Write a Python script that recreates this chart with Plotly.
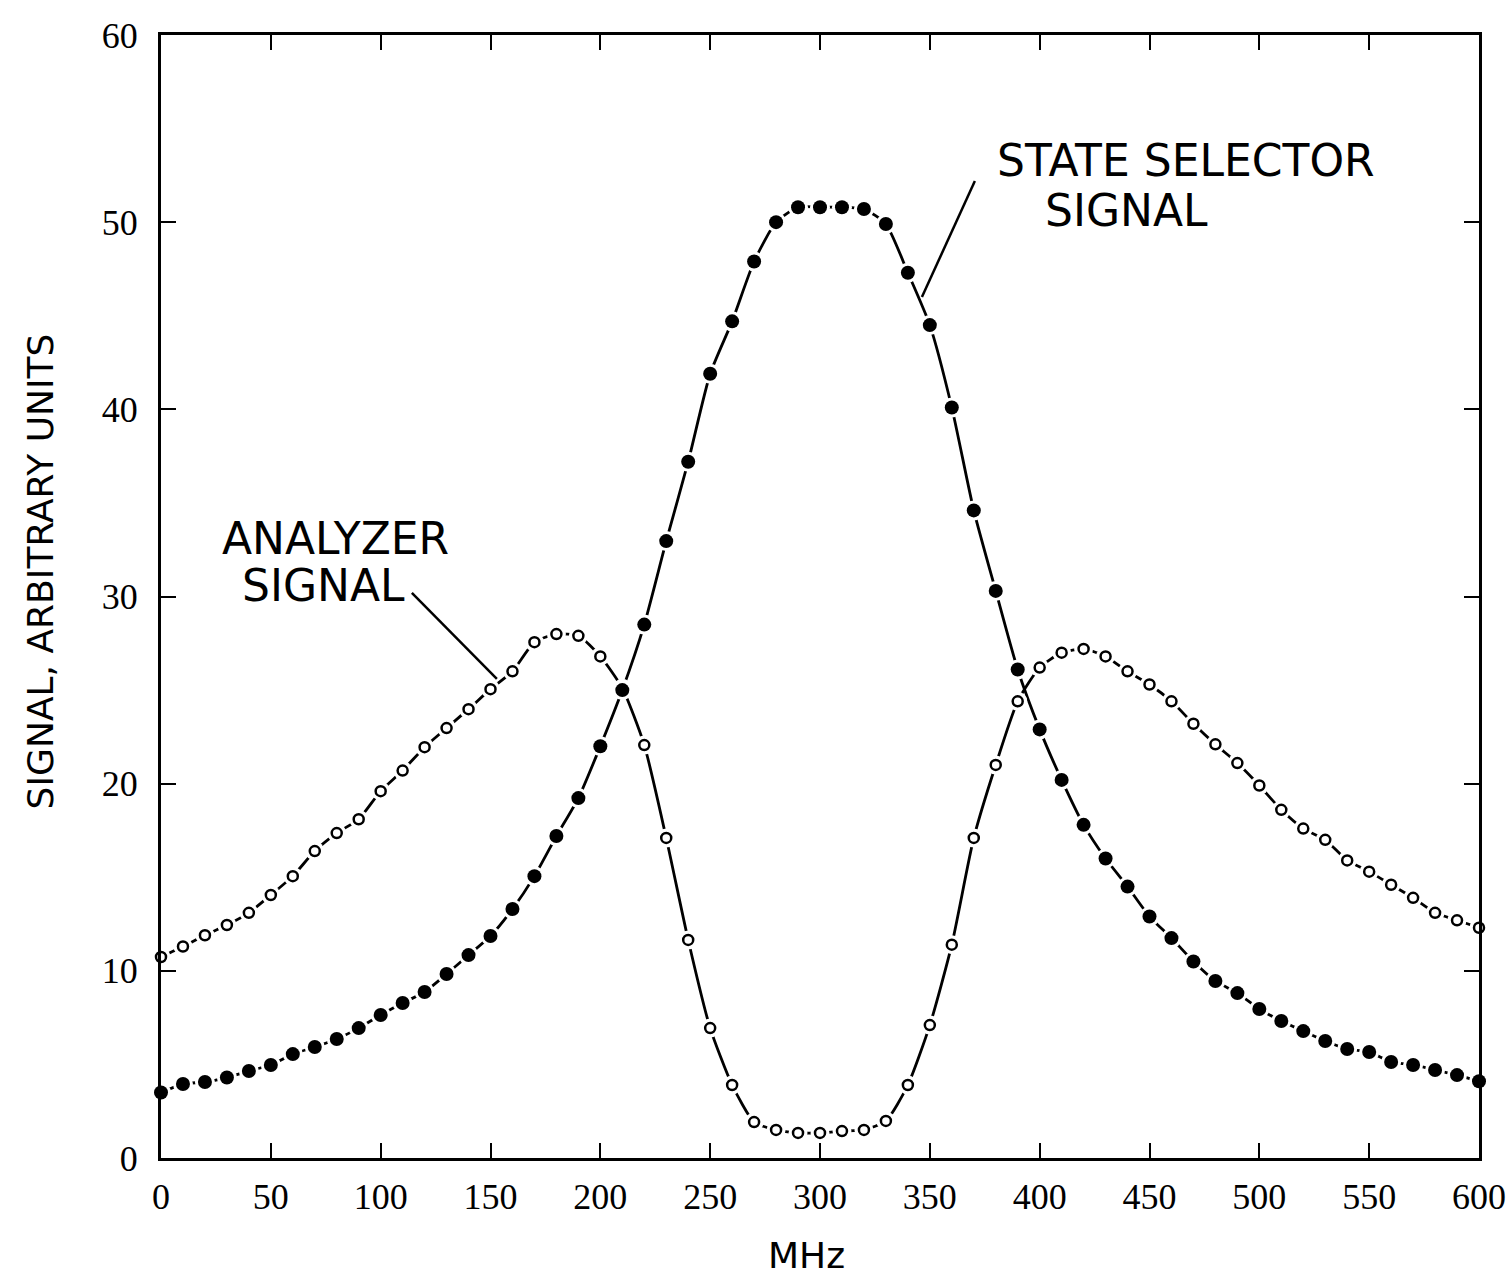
import plotly.graph_objects as go

freq_mhz = list(range(0, 601, 10))

state_selector_signal = [
    3.5, 3.95, 4.06, 4.3, 4.65, 4.97, 5.55, 5.93, 6.36, 6.94,
    7.64, 8.28, 8.87, 9.83, 10.84, 11.86, 13.3, 15.06, 17.2, 19.23,
    22.0, 25.0, 28.5, 32.96, 37.2, 41.9, 44.7, 47.9, 50.0, 50.8,
    50.8, 50.8, 50.7, 49.9, 47.3, 44.5, 40.1, 34.6, 30.3, 26.1,
    22.9, 20.2, 17.8, 16.0, 14.5, 12.9, 11.75, 10.5, 9.46, 8.81,
    7.96, 7.32, 6.78, 6.25, 5.82, 5.66, 5.13, 4.97, 4.7, 4.43, 4.1,
]

analyzer_signal = [
    10.74, 11.3, 11.9, 12.45, 13.1, 14.05, 15.06, 16.4, 17.36, 18.1,
    19.6, 20.7, 21.95, 22.97, 23.98, 25.05, 26.0, 27.56, 27.99, 27.9,
    26.8, 25.1, 22.06, 17.1, 11.65, 6.94, 3.9, 1.92, 1.5, 1.34,
    1.34, 1.44, 1.5, 1.98, 3.9, 7.1, 11.4, 17.1, 21.0, 24.4,
    26.2, 27.0, 27.2, 26.8, 26.0, 25.3, 24.4, 23.2, 22.1, 21.1,
    19.9, 18.6, 17.6, 17.0, 15.9, 15.3, 14.6, 13.9, 13.1, 12.7, 12.3,
]

x_ticks = list(range(0, 601, 50))
y_ticks = list(range(0, 61, 10))

fig = go.Figure()

def add_line(y):
    fig.add_trace(go.Scatter(
        x=freq_mhz, y=y, mode="lines",
        line=dict(color="black", width=2.8, shape="spline", smoothing=0.6),
        hoverinfo="skip", showlegend=False,
    ))

def add_markers(y, filled):
    # white halo that opens a gap in the line around every point
    fig.add_trace(go.Scatter(
        x=freq_mhz, y=y, mode="markers",
        marker=dict(size=20 if filled else 19, color="white", line=dict(width=0)),
        cliponaxis=False, hoverinfo="skip", showlegend=False,
    ))
    if filled:
        m = dict(size=14, color="black", line=dict(width=0))
    else:
        m = dict(size=10, color="white", line=dict(color="black", width=2.5))
    fig.add_trace(go.Scatter(
        x=freq_mhz, y=y, mode="markers", marker=m,
        cliponaxis=False, showlegend=False,
    ))

add_line(analyzer_signal)
add_line(state_selector_signal)
add_markers(analyzer_signal, False)
add_markers(state_selector_signal, True)

ann_font = dict(family="DejaVu Sans", size=44, color="black")
annotations = [
    dict(x=379.6, y=53.3, text="STATE SELECTOR", xanchor="left", yanchor="middle"),
    dict(x=401.5, y=50.6, text="SIGNAL", xanchor="left", yanchor="middle"),
    dict(x=27.0, y=33.1, text="ANALYZER", xanchor="left", yanchor="middle"),
    dict(x=36.0, y=30.6, text="SIGNAL", xanchor="left", yanchor="middle"),
]
for a in annotations:
    a.update(xref="x", yref="y", showarrow=False, font=ann_font)

title_font = dict(family="DejaVu Sans", size=36, color="black")
annotations += [
    dict(text="SIGNAL, ARBITRARY UNITS", textangle=-90, xref="paper", yref="paper",
         x=-0.0915, y=0.5227, xanchor="center", yanchor="middle",
         showarrow=False, font=title_font),
    dict(text="MHz", xref="paper", yref="paper", x=0.4894, y=-0.0864,
         xanchor="center", yanchor="middle", showarrow=False, font=title_font),
]

shapes = [
    dict(type="line", xref="x", yref="y", x0=370.5, y0=52.2, x1=346.4, y1=46.0,
         line=dict(color="black", width=2.5)),
    dict(type="line", xref="x", yref="y", x0=114.2, y0=30.2, x1=152.9, y1=25.6,
         line=dict(color="black", width=2.5)),
]

axis_common = dict(
    showline=True, linecolor="black", linewidth=3, mirror="ticks",
    ticks="inside", ticklen=15, tickwidth=2, tickcolor="black",
    showgrid=False, zeroline=False,
    tickfont=dict(family="Liberation Serif", size=36, color="black"),
)

fig.update_layout(
    width=1510, height=1281,
    margin=dict(l=161, r=31, t=35, b=123, autoexpand=False),
    paper_bgcolor="white", plot_bgcolor="white",
    annotations=annotations, shapes=shapes,
    xaxis=dict(range=[0, 600], tickvals=x_ticks, ticklabelstandoff=5, **axis_common),
    yaxis=dict(range=[0, 60], tickvals=y_ticks, ticklabelstandoff=13, **axis_common),
)

fig.write_html("out.html")
